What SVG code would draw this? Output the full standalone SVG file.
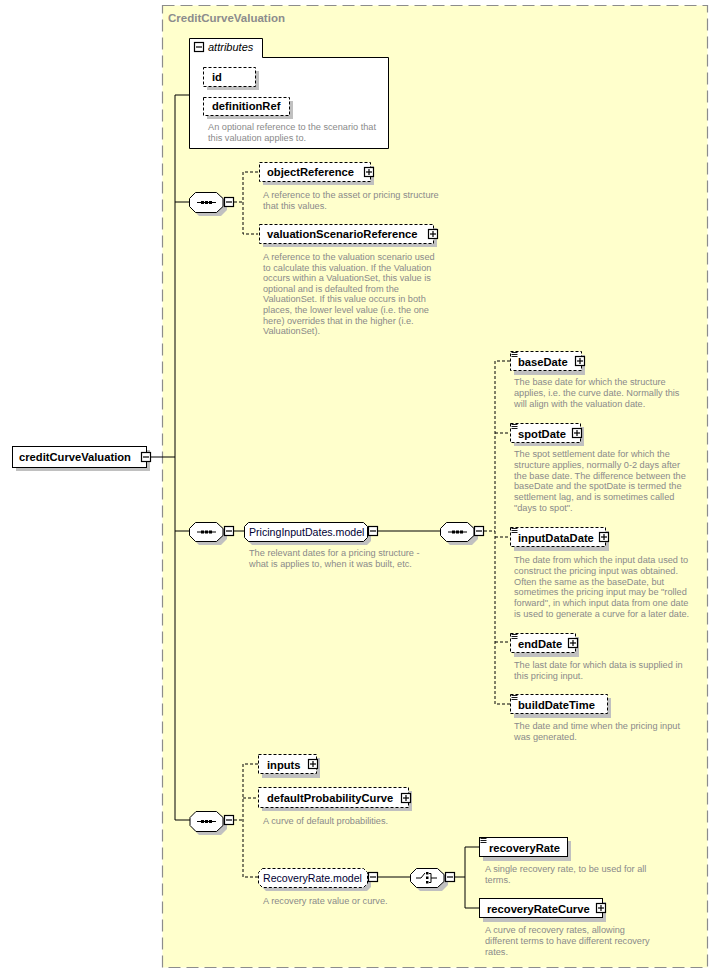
<svg xmlns="http://www.w3.org/2000/svg" width="719" height="975" viewBox="0 0 719 975">
<style>
.el{font-family:"Liberation Sans",Arial,sans-serif;font-size:11.2px;font-weight:bold;fill:#000}
.grp{font-family:"Liberation Sans",Arial,sans-serif;font-size:10.6px;fill:#000033}
.doc{font-family:"Liberation Sans",Arial,sans-serif;font-size:9.2px;fill:#8a8a8a}
.title{font-family:"Liberation Sans",Arial,sans-serif;font-size:11.5px;font-weight:bold;fill:#8c8c8c}
.att{font-family:"Liberation Sans",Arial,sans-serif;font-size:11px;font-style:italic;fill:#000}
.box{fill:#fff;stroke:#000;stroke-width:1}
.dbox{fill:#fff;stroke:#000;stroke-width:1;stroke-dasharray:3,2}
.sh{fill:#c0c0c0}
.ln{stroke:#000;stroke-width:1;fill:none}
.dl{stroke:#000;stroke-width:1;fill:none;stroke-dasharray:3,2}
.ic{fill:#fff;stroke:#000;stroke-width:1.2}
</style>
<defs>
<g id="minus"><rect class="ic" x="0.5" y="0.5" width="9" height="9"/><line x1="2" y1="5" x2="8" y2="5" stroke="#000" stroke-width="1.2"/></g>
<g id="plus"><rect class="ic" x="0.5" y="0.5" width="9" height="9"/><line x1="2" y1="5" x2="8" y2="5" stroke="#000" stroke-width="1.2"/><line x1="5" y1="2" x2="5" y2="8" stroke="#000" stroke-width="1.2"/></g>
<g id="lines"><line x1="1.5" y1="1.5" x2="7.5" y2="1.5" stroke="#000" stroke-width="0.9"/><line x1="1.5" y1="3.5" x2="7.5" y2="3.5" stroke="#000" stroke-width="0.9"/><line x1="1.5" y1="5.5" x2="7.5" y2="5.5" stroke="#000" stroke-width="0.9"/></g>
</defs>

<!-- outer complex type -->
<g id="CreditCurveValuation">
<rect x="162.5" y="5.5" width="545" height="962" fill="#ffffcc" stroke="#8c8c8c" stroke-width="1.2" stroke-dasharray="12,6"/>
<text class="title" x="168" y="22">CreditCurveValuation</text>
</g>

<!-- connectors -->
<g id="connectors">
<line class="ln" x1="151" y1="457" x2="175" y2="457"/>
<line class="ln" x1="175" y1="95" x2="175" y2="820"/>
<line class="ln" x1="175" y1="95" x2="189" y2="95"/>
<line class="ln" x1="175" y1="202" x2="189" y2="202"/>
<line class="ln" x1="175" y1="531" x2="189" y2="531"/>
<line class="ln" x1="175" y1="820" x2="190" y2="820"/>
<polyline class="dl" points="234,202 243,202"/>
<polyline class="dl" points="258,172 243,172 243,234 258,234"/>
<line class="ln" x1="234" y1="531" x2="244" y2="531"/>
<line class="ln" x1="378" y1="531" x2="440" y2="531"/>
<polyline class="dl" points="484,531 495,531"/>
<polyline class="dl" points="510,361 495,361 495,704 510,704"/>
<line class="dl" x1="495" y1="433" x2="510" y2="433"/>
<line class="dl" x1="495" y1="537" x2="510" y2="537"/>
<line class="dl" x1="495" y1="642" x2="510" y2="642"/>
<polyline class="dl" points="234,820 243,820"/>
<polyline class="dl" points="258,764 243,764 243,877 258,877"/>
<line class="dl" x1="243" y1="798" x2="258" y2="798"/>
<line class="ln" x1="378" y1="877" x2="410" y2="877"/>
<polyline class="ln" points="455,877 465,877"/>
<polyline class="ln" points="479,847 465,847 465,908 479,908"/>
</g>

<!-- root element -->
<g id="creditCurveValuation">
<rect class="sh" x="16" y="450" width="134" height="21"/>
<rect class="box" x="12.5" y="446.5" width="134" height="21"/>
<text class="el" x="19" y="461">creditCurveValuation</text>
<use href="#minus" x="141" y="452"/>
</g>

<!-- attributes -->
<g id="attributes">
<path class="box" d="M189.5,148.5 L189.5,38.5 L262.5,38.5 L262.5,57.5 L388.5,57.5 L388.5,148.5 Z"/>
<use href="#minus" x="194" y="42"/>
<text class="att" x="208" y="51">attributes</text>
</g>
<g id="id">
<rect class="sh" x="207" y="71" width="52" height="19"/>
<rect class="dbox" x="203.5" y="67.5" width="52" height="19"/>
<text class="el" x="212" y="81">id</text>
</g>
<g id="definitionRef">
<rect class="sh" x="207" y="101" width="86" height="18"/>
<rect class="dbox" x="203.5" y="97.5" width="86" height="18"/>
<text class="el" x="212" y="110">definitionRef</text>
<text class="doc" x="208" y="130">An optional reference to the scenario that</text>
<text class="doc" x="208" y="141">this valuation applies to.</text>
</g>

<!-- sequence 1 -->
<g id="seq1">
<path class="sh" d="M199,196 L221,196 L227,202 L227,210 L221,216 L199,216 L193,210 L193,202 Z"/>
<path class="box" d="M195.5,192.5 L216.5,192.5 L223,198.5 L223,206.5 L216.5,212.5 L195.5,212.5 L189.5,206.5 L189.5,198.5 Z"/>
<line class="ln" x1="197" y1="202.5" x2="216" y2="202.5"/>
<rect x="201" y="201" width="3" height="3"/><rect x="205" y="201" width="3" height="3"/><rect x="209" y="201" width="3" height="3"/>
<use href="#minus" x="224" y="197"/>
</g>
<g id="objectReference">
<rect class="sh" x="263" y="166" width="111" height="19"/>
<rect class="dbox" x="259.5" y="162.5" width="111" height="19"/>
<text class="el" x="267" y="176">objectReference</text>
<use href="#plus" x="364" y="167"/>
<text class="doc" x="263" y="198">A reference to the asset or pricing structure</text>
<text class="doc" x="263" y="209">that this values.</text>
</g>
<g id="valuationScenarioReference">
<rect class="sh" x="263" y="228" width="174" height="19"/>
<rect class="dbox" x="259.5" y="224.5" width="174" height="19"/>
<text class="el" x="267" y="238">valuationScenarioReference</text>
<use href="#plus" x="428" y="229"/>
<text class="doc" x="263" y="260">A reference to the valuation scenario used</text>
<text class="doc" x="263" y="271">to calculate this valuation. If the Valuation</text>
<text class="doc" x="263" y="281">occurs within a ValuationSet, this value is</text>
<text class="doc" x="263" y="292">optional and is defaulted from the</text>
<text class="doc" x="263" y="302">ValuationSet. If this value occurs in both</text>
<text class="doc" x="263" y="313">places, the lower level value (i.e. the one</text>
<text class="doc" x="263" y="324">here) overrides that in the higher (i.e.</text>
<text class="doc" x="263" y="334">ValuationSet).</text>
</g>

<!-- sequence 2 -->
<g id="seq2">
<path class="sh" d="M199,526 L221,526 L227,532 L227,539 L221,545 L199,545 L193,539 L193,532 Z"/>
<path class="box" d="M195.5,522.5 L216.5,522.5 L223,528.5 L223,535.5 L216.5,541.5 L195.5,541.5 L189.5,535.5 L189.5,528.5 Z"/>
<line class="ln" x1="197" y1="532" x2="216" y2="532"/>
<rect x="201" y="530.5" width="3" height="3"/><rect x="205" y="530.5" width="3" height="3"/><rect x="209" y="530.5" width="3" height="3"/>
<use href="#minus" x="224" y="526"/>
</g>
<g id="PricingInputDates.model">
<path class="sh" d="M252,526 L367,526 L371,530 L371,541 L367,545 L252,545 L248,541 L248,530 Z"/>
<path class="box" d="M248.5,522.5 L363.5,522.5 L367.5,526.5 L367.5,537.5 L363.5,541.5 L248.5,541.5 L244.5,537.5 L244.5,526.5 Z"/>
<text class="grp" x="249" y="536">PricingInputDates.model</text>
<use href="#minus" x="368" y="526"/>
<text class="doc" x="249" y="556">The relevant dates for a pricing structure -</text>
<text class="doc" x="249" y="567">what is applies to, when it was built, etc.</text>
</g>
<g id="seq2b">
<path class="sh" d="M450,526 L472,526 L478,532 L478,539 L472,545 L450,545 L444,539 L444,532 Z"/>
<path class="box" d="M446.5,522.5 L467.5,522.5 L474,528.5 L474,535.5 L467.5,541.5 L446.5,541.5 L440.5,535.5 L440.5,528.5 Z"/>
<line class="ln" x1="448" y1="532" x2="467" y2="532"/>
<rect x="452" y="530.5" width="3" height="3"/><rect x="456" y="530.5" width="3" height="3"/><rect x="460" y="530.5" width="3" height="3"/>
<use href="#minus" x="474" y="526"/>
</g>
<g id="baseDate">
<rect class="sh" x="514" y="355" width="71" height="20"/>
<rect class="dbox" x="510.5" y="351.5" width="71" height="19"/>
<use href="#lines" x="510" y="351"/>
<text class="el" x="518" y="366">baseDate</text>
<use href="#plus" x="575" y="356"/>
<text class="doc" x="514" y="385">The base date for which the structure</text>
<text class="doc" x="514" y="396">applies, i.e. the curve date. Normally this</text>
<text class="doc" x="514" y="407">will align with the valuation date.</text>
</g>
<g id="spotDate">
<rect class="sh" x="514" y="427" width="70" height="19"/>
<rect class="dbox" x="510.5" y="423.5" width="70" height="19"/>
<use href="#lines" x="510" y="423"/>
<text class="el" x="518" y="438">spotDate</text>
<use href="#plus" x="572" y="428"/>
<text class="doc" x="514" y="457">The spot settlement date for which the</text>
<text class="doc" x="514" y="468">structure applies, normally 0-2 days after</text>
<text class="doc" x="514" y="479">the base date. The difference between the</text>
<text class="doc" x="514" y="489">baseDate and the spotDate is termed the</text>
<text class="doc" x="514" y="500">settlement lag, and is sometimes called</text>
<text class="doc" x="514" y="511">"days to spot".</text>
</g>
<g id="inputDataDate">
<rect class="sh" x="514" y="531" width="95" height="20"/>
<rect class="dbox" x="510.5" y="527.5" width="95" height="19"/>
<use href="#lines" x="510" y="527"/>
<text class="el" x="518" y="542">inputDataDate</text>
<use href="#plus" x="599" y="532"/>
<text class="doc" x="514" y="563">The date from which the input data used to</text>
<text class="doc" x="514" y="574">construct the pricing input was obtained.</text>
<text class="doc" x="514" y="585">Often the same as the baseDate, but</text>
<text class="doc" x="514" y="595">sometimes the pricing input may be "rolled</text>
<text class="doc" x="514" y="606">forward", in which input data from one date</text>
<text class="doc" x="514" y="617">is used to generate a curve for a later date.</text>
</g>
<g id="endDate">
<rect class="sh" x="514" y="637" width="65" height="20"/>
<rect class="dbox" x="510.5" y="633.5" width="65" height="19"/>
<use href="#lines" x="510" y="633"/>
<text class="el" x="518" y="648">endDate</text>
<use href="#plus" x="568" y="638"/>
<text class="doc" x="514" y="668">The last date for which data is supplied in</text>
<text class="doc" x="514" y="679">this pricing input.</text>
</g>
<g id="buildDateTime">
<rect class="sh" x="514" y="698" width="97" height="20"/>
<rect class="dbox" x="510.5" y="694.5" width="97" height="19"/>
<use href="#lines" x="510" y="694"/>
<text class="el" x="518" y="709">buildDateTime</text>
<text class="doc" x="514" y="729">The date and time when the pricing input</text>
<text class="doc" x="514" y="740">was generated.</text>
</g>

<!-- sequence 3 -->
<g id="seq3">
<path class="sh" d="M199,815 L221,815 L227,821 L227,829 L221,835 L199,835 L193,829 L193,821 Z"/>
<path class="box" d="M196,811.5 L216.5,811.5 L223,817.5 L223,825.5 L216.5,831.5 L196,831.5 L190,825.5 L190,817.5 Z"/>
<line class="ln" x1="197" y1="821.5" x2="216" y2="821.5"/>
<rect x="201" y="820" width="3" height="3"/><rect x="205" y="820" width="3" height="3"/><rect x="209" y="820" width="3" height="3"/>
<use href="#minus" x="224" y="815"/>
</g>
<g id="inputs">
<rect class="sh" x="262" y="758" width="58" height="20"/>
<rect class="dbox" x="258.5" y="754.5" width="58" height="19"/>
<text class="el" x="267" y="769">inputs</text>
<use href="#plus" x="308" y="759"/>
</g>
<g id="defaultProbabilityCurve">
<rect class="sh" x="262" y="791" width="150" height="20"/>
<rect class="dbox" x="258.5" y="787.5" width="150" height="20"/>
<text class="el" x="267" y="802">defaultProbabilityCurve</text>
<use href="#plus" x="401" y="793"/>
<text class="doc" x="263" y="824">A curve of default probabilities.</text>
</g>
<g id="RecoveryRate.model">
<path class="sh" d="M266,872 L367,872 L371,876 L371,887 L367,891 L266,891 L262,887 L262,876 Z"/>
<path class="dbox" d="M262.5,868.5 L363.5,868.5 L367.5,872.5 L367.5,883.5 L363.5,887.5 L262.5,887.5 L258.5,883.5 L258.5,872.5 Z"/>
<text class="grp" x="263" y="882">RecoveryRate.model</text>
<use href="#minus" x="368" y="872"/>
<text class="doc" x="263" y="904">A recovery rate value or curve.</text>
</g>
<g id="choice">
<path class="sh" d="M420,872 L442,872 L448,878 L448,885 L442,891 L420,891 L414,885 L414,878 Z"/>
<path class="box" d="M416.5,868.5 L437.5,868.5 L444,874.5 L444,881.5 L437.5,887.5 L416.5,887.5 L410.5,881.5 L410.5,874.5 Z"/>
<polyline class="ln" points="416,878 421,878 425,873"/>
<rect x="426" y="872" width="2.5" height="2.5"/><rect x="426" y="876.5" width="2.5" height="2.5"/><rect x="426" y="881" width="2.5" height="2.5"/>
<polyline class="ln" points="429,873.5 431,873.5 431,882.5 429,882.5"/>
<line class="ln" x1="431" y1="878" x2="437" y2="878"/>
<use href="#minus" x="445" y="872"/>
</g>
<g id="recoveryRate">
<rect class="sh" x="483" y="841" width="88" height="20"/>
<rect class="box" x="479.5" y="837.5" width="88" height="19"/>
<use href="#lines" x="479" y="837"/>
<text class="el" x="489" y="852">recoveryRate</text>
<text class="doc" x="485" y="872">A single recovery rate, to be used for all</text>
<text class="doc" x="485" y="883">terms.</text>
</g>
<g id="recoveryRateCurve">
<rect class="sh" x="483" y="902" width="123" height="20"/>
<rect class="box" x="479.5" y="898.5" width="123" height="19"/>
<text class="el" x="487" y="913">recoveryRateCurve</text>
<use href="#plus" x="596" y="903"/>
<text class="doc" x="485" y="933">A curve of recovery rates, allowing</text>
<text class="doc" x="485" y="944">different terms to have different recovery</text>
<text class="doc" x="485" y="955">rates.</text>
</g>
</svg>
